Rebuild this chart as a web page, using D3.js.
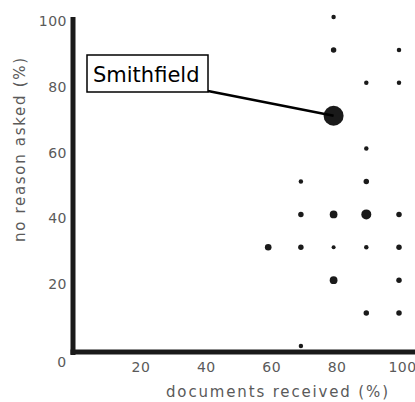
<!DOCTYPE html>
<html>
<head>
<meta charset="utf-8">
<script src="https://cdn.jsdelivr.net/npm/d3@7"></script>
<style>
  body { margin: 0; background: #fff; }
  svg { display: block; }
  .tick text { font-family: "DejaVu Sans", sans-serif; font-size: 14px; fill: #5a5a5a; letter-spacing: 0.5px; }
  .title { font-family: "DejaVu Sans", sans-serif; font-size: 15px; fill: #5a5a5a; }
</style>
</head>
<body>
<svg width="415" height="402"></svg>
<script>
'use strict';

// % of documents received vs % with no reason asked, one mark per group
let docsReceived = [80, 80, 100, 90, 100, 80, 90, 70, 90, 70, 80, 90, 100, 60, 70, 80, 90, 100, 80, 100, 90, 100, 70],
    noReason =     [100, 90, 90, 80, 80, 70, 60, 50, 50, 40, 40, 40, 40, 30, 30, 30, 30, 30, 20, 20, 10, 10, 0],
    weight =       [1, 1.5, 1, 1, 1, 20, 1, 1, 1.5, 1.5, 3, 5, 1.5, 2.2, 1.5, 0.8, 1, 1.5, 3, 1.5, 1.5, 1.5, 1];

let xTicks = [20, 40, 60, 80, 100],
    yTicks = [20, 40, 60, 80, 100];

let highlight = {label: "Smithfield", docs: 80, noReason: 70};

let svg = d3.select("svg");

let x = d3.scaleLinear().domain([0, 100]).range([72, 399]),
    y = d3.scaleLinear().domain([0, 100]).range([346, 17]),
    r = d3.scaleSqrt().domain([0, 20]).range([0, 10]);

let points = docsReceived.map(function(d, i) {
    return {docs: d, noReason: noReason[i], w: weight[i]};
});

// tick labels
let xAxis = svg.append("g")
    .attr("transform", "translate(0,352)")
    .call(d3.axisBottom(x).tickValues(xTicks).tickSize(0).tickPadding(10));
xAxis.select(".domain").remove();
xAxis.selectAll("text").attr("dx", 3);

let yAxis = svg.append("g")
    .attr("transform", "translate(73,0)")
    .call(d3.axisLeft(y).tickValues(yTicks).tickSize(0).tickPadding(6));
yAxis.select(".domain").remove();
yAxis.selectAll("text").attr("y", 4);

// shared zero at the corner
svg.append("g").attr("class", "tick")
    .append("text")
    .attr("x", 62).attr("y", 367)
    .attr("text-anchor", "middle")
    .text("0");

// marks
svg.append("g")
    .selectAll("circle")
    .data(points)
    .enter().append("circle")
    .attr("cx", function(d) { return x(d.docs); })
    .attr("cy", function(d) { return y(d.noReason); })
    .attr("r", function(d) { return r(d.w); })
    .attr("fill", "#1a1a1a");

// thick axis lines
svg.append("line")
    .attr("x1", 73).attr("x2", 73)
    .attr("y1", y(100)).attr("y2", 355)
    .attr("stroke", "#1a1a1a").attr("stroke-width", 5);
svg.append("line")
    .attr("x1", 70.5).attr("x2", 415)
    .attr("y1", 352).attr("y2", 352)
    .attr("stroke", "#1a1a1a").attr("stroke-width", 5);

// axis titles
svg.append("text").attr("class", "title")
    .attr("x", 277).attr("y", 397)
    .attr("text-anchor", "middle")
    .attr("textLength", 222).attr("lengthAdjust", "spacing")
    .text("documents received (%)");

svg.append("text").attr("class", "title")
    .attr("transform", "translate(25,150) rotate(-90)")
    .attr("text-anchor", "middle")
    .attr("textLength", 184).attr("lengthAdjust", "spacing")
    .text("no reason asked (%)");

// callout
let boxX = 87, boxY = 55, boxW = 121, boxH = 37;
svg.append("line")
    .attr("x1", boxX + boxW).attr("y1", boxY + boxH - 1)
    .attr("x2", x(highlight.docs)).attr("y2", y(highlight.noReason))
    .attr("stroke", "#000").attr("stroke-width", 2.5);
svg.append("rect")
    .attr("x", boxX).attr("y", boxY)
    .attr("width", boxW).attr("height", boxH)
    .attr("fill", "#fff").attr("stroke", "#000").attr("stroke-width", 1.5);
svg.append("text")
    .attr("x", boxX + 6).attr("y", 82)
    .style("font-family", "DejaVu Sans, sans-serif")
    .style("font-size", "21px")
    .attr("fill", "#000")
    .text(highlight.label);
</script>
</body>
</html>
